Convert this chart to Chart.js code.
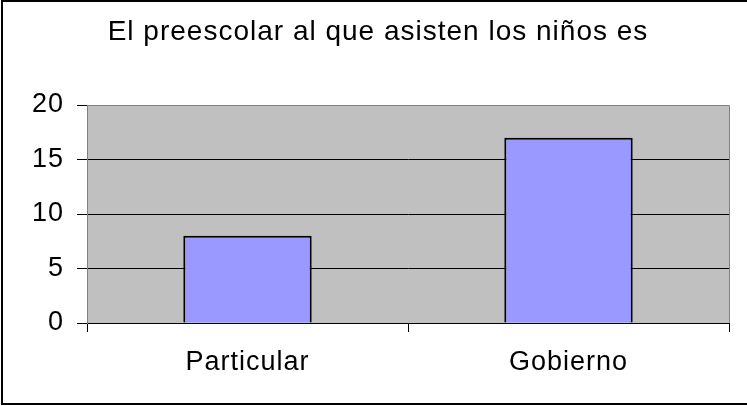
<!DOCTYPE html>
<html>
<head>
<meta charset="utf-8">
<script src="https://cdn.jsdelivr.net/npm/chart.js@4/dist/chart.umd.min.js"></script>
<style>
  body { margin: 0; background: #fff; }
  canvas { display: block; }
</style>
</head>
<body>
<canvas id="chart" width="747" height="406"></canvas>
<script>
const titleText = 'El preescolar al que asisten los niños es';
const categories = ['Particular', 'Gobierno'];
const values = [8, 17];
const yTicks = [0, 5, 10, 15, 20];

const FONT = "'Liberation Sans', Arial, sans-serif";

// fondo gris del área, marco y título
const frame = {
  id: 'frame',
  beforeDraw(chart) {
    const { ctx, chartArea: a } = chart;
    ctx.save();
    ctx.fillStyle = '#c0c0c0';
    ctx.fillRect(a.left, a.top, a.right - a.left, a.bottom - a.top);
    ctx.restore();
    // el texto de Excel va un poco más espaciado
    ctx.letterSpacing = '1px';
  },
  afterDraw(chart) {
    const { ctx, chartArea: a } = chart;
    ctx.letterSpacing = '0px';
    ctx.save();
    ctx.strokeStyle = '#808080';
    ctx.lineWidth = 1;
    ctx.beginPath();
    ctx.moveTo(a.left, a.top + 0.5);
    ctx.lineTo(a.right + 0.5, a.top + 0.5);
    ctx.lineTo(a.right + 0.5, a.bottom);
    ctx.stroke();
    // borde exterior
    ctx.strokeStyle = '#000';
    ctx.lineWidth = 2;
    ctx.beginPath();
    ctx.moveTo(760, 1);
    ctx.lineTo(2, 1);
    ctx.lineTo(2, 404);
    ctx.lineTo(760, 404);
    ctx.stroke();
    // título
    ctx.fillStyle = '#000';
    ctx.font = '28px ' + FONT;
    ctx.letterSpacing = '1px';
    ctx.textAlign = 'center';
    ctx.textBaseline = 'alphabetic';
    ctx.fillText(titleText, 378, 40);
    ctx.restore();
  }
};

new Chart(document.getElementById('chart'), {
  type: 'bar',
  data: {
    labels: categories,
    datasets: [{
      data: values,
      backgroundColor: '#9999ff',
      borderColor: '#000',
      borderWidth: 2,
      categoryPercentage: 1,
      barPercentage: 0.4
    }]
  },
  options: {
    responsive: false,
    animation: false,
    layout: { padding: { top: 105, right: 18, left: 0, bottom: 0 } },
    plugins: {
      legend: { display: false },
      title: { display: false },
      tooltip: { enabled: false }
    },
    scales: {
      x: {
        afterFit: s => { s.height = 83; },
        border: { color: '#000', width: 1 },
        grid: {
          offset: true,
          drawOnChartArea: false,
          tickLength: 9,
          color: '#000'
        },
        ticks: {
          color: '#000',
          padding: 14,
          font: { family: FONT, size: 27 }
        }
      },
      y: {
        min: 0,
        max: 20,
        afterFit: s => { s.width = 87; },
        afterBuildTicks: s => { s.ticks = yTicks.map(v => ({ value: v })); },
        border: { color: '#808080', width: 1 },
        grid: {
          color: ctx => (ctx.tick && ctx.tick.value === 20 ? '#808080' : '#000'),
          tickColor: '#000',
          tickLength: 10
        },
        ticks: {
          color: '#000',
          padding: 13,
          font: { family: FONT, size: 27 }
        }
      }
    }
  },
  plugins: [frame]
});
</script>
</body>
</html>
